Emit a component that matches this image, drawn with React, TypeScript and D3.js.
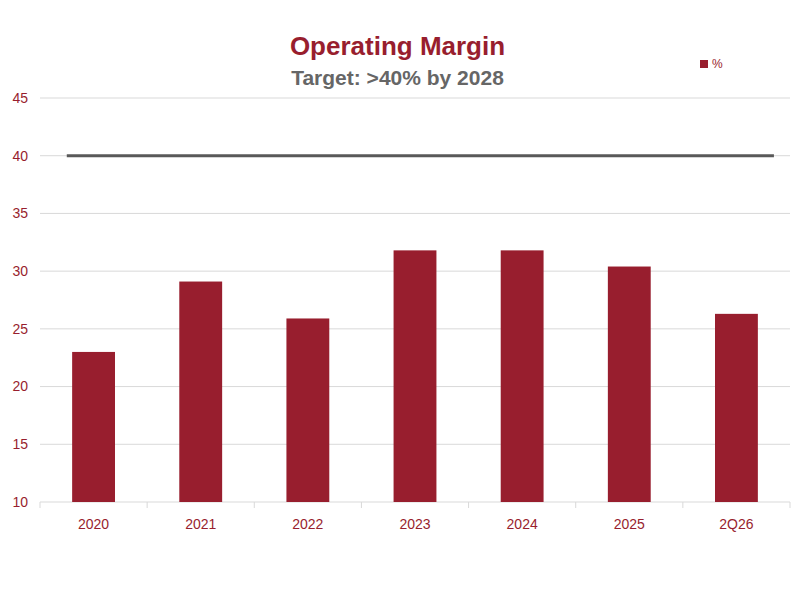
import React from "react";
import * as d3 from "d3";

const categories = ["2020", "2021", "2022", "2023", "2024", "2025", "2Q26"];
const values = [23.0, 29.1, 25.9, 31.8, 31.8, 30.4, 26.3];
const target = 40;
const yTicks = [10, 15, 20, 25, 30, 35, 40, 45];

const W = 795, H = 589;
const M = { left: 40, right: 5, top: 98, bottom: 87 };
const red = "#981E2E";

export default function App() {
  const x = d3.scaleBand().domain(categories).range([M.left, W - M.right]);
  const y = d3.scaleLinear().domain([10, 45]).range([H - M.bottom, M.top]);
  const bw = x.bandwidth() * 0.4;
  const font = "'Liberation Sans', Arial, sans-serif";
  return (
    <svg width={W} height={H} style={{ position: "absolute", left: 0, top: 0 }} fontFamily={font}>
      <rect width={W} height={H} fill="#fff" />
      {yTicks.map((t) => (
        <g key={t}>
          <line x1={M.left} x2={W - M.right} y1={y(t)} y2={y(t)} stroke="#d9d9d9" />
          <text x={M.left - 12} y={y(t)} dy="0.35em" textAnchor="end" fontSize={14} fill={red}>{t}</text>
        </g>
      ))}
      {categories.map((c, i) => (
        <g key={c}>
          <rect x={x(c)! + (x.bandwidth() - bw) / 2} y={y(values[i])} width={bw} height={y(10) - y(values[i])} fill={red} />
          <line x1={x(c)!} x2={x(c)!} y1={y(10)} y2={y(10) + 6} stroke="#d9d9d9" />
          <text x={x(c)! + x.bandwidth() / 2} y={y(10) + 27} textAnchor="middle" fontSize={14} fill={red}>{c}</text>
        </g>
      ))}
      <line x1={W - M.right} x2={W - M.right} y1={y(10)} y2={y(10) + 6} stroke="#d9d9d9" />
      <line x1={x("2020")! + x.bandwidth() / 4} x2={x("2Q26")! + x.bandwidth() * 0.85} y1={y(target)} y2={y(target)} stroke="#595959" strokeWidth={3} />
      <text x={W / 2} y={55} textAnchor="middle" fontSize={26} fontWeight="bold" fill={red}>Operating Margin</text>
      <text x={W / 2} y={85} textAnchor="middle" fontSize={21} fontWeight="bold" fill="#666">Target: &gt;40% by 2028</text>
      <rect x={700} y={60} width={8} height={8} fill={red} />
      <text x={712} y={68} fontSize={12} fill={red}>%</text>
    </svg>
  );
}
